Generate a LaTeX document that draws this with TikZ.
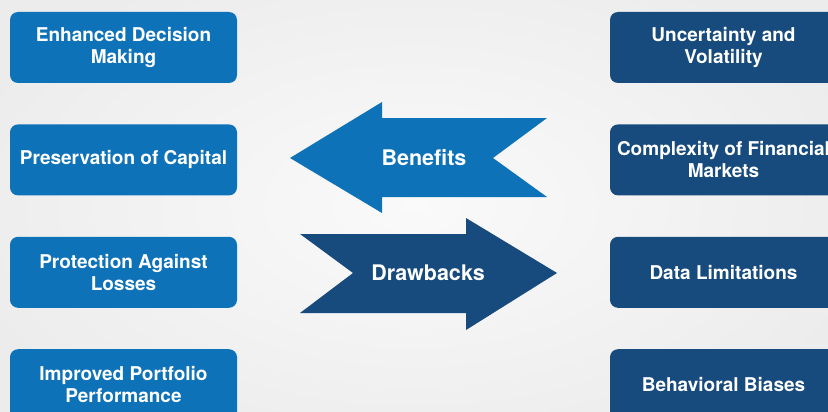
\documentclass[tikz,border=0pt]{standalone}
\usepackage{fontspec}
\setmainfont{TeX Gyre Heros}
\usepackage{tikz}
\usetikzlibrary{positioning}
\usepackage{xcolor}
\definecolor{benblue}{RGB}{14,114,185}
\definecolor{drawblue}{RGB}{24,75,125}
\definecolor{bggray}{RGB}{236,236,236}
\tikzset{
	itembox/.style={rounded corners=8pt, minimum width=227pt, minimum height=71pt, inner sep=0pt, align=center, text=white, font=\fontsize{19}{22}\selectfont\bfseries},
	benbox/.style={itembox, fill=benblue},
	drawbox/.style={itembox, fill=drawblue},
	arrowlabel/.style={text=white, font=\fontsize{21.5}{24}\selectfont\bfseries}
}

\begin{document}
\begin{tikzpicture}[x=1pt, y=-1pt]
						\useasboundingbox (0,0) rectangle (828,412);
						\clip (0,0) rectangle (828,412);
						\shade [inner color=white!98!black, outer color=bggray] (-60,-60) rectangle (888,472);
						% benefits column
						\node [benbox] (enhanced) at (123.5,47.5) {Enhanced Decision\\Making};
						\node [benbox, below=41pt of enhanced] (preservation) {Preservation of Capital};
						\node [benbox, below=41pt of preservation] (protection) {Protection Against\\Losses};
						\node [benbox, below=41pt of protection] (improved) {Improved Portfolio\\Performance};
						% drawbacks column
						\node [drawbox] (uncertainty) at (723.5,47.5) {Uncertainty and\\Volatility};
						\node [drawbox, below=41pt of uncertainty] (complexity) {Complexity of Financial\\Markets};
						\node [drawbox, below=41pt of complexity] (datalim) {Data Limitations};
						\node [drawbox, below=41pt of datalim] (behavioral) {Behavioral Biases};
						% the two arrows
						\fill [benblue] (290,158) -- (382,102) -- (382,118) -- (547,118) -- (493,158) -- (547,197) -- (382,197) -- (382,213) -- cycle;
						\node [arrowlabel] (benefits) at (424,158) {Benefits};
						\fill [drawblue] (300,234) -- (466,234) -- (466,218) -- (557,273) -- (466,330) -- (466,313) -- (300,313) -- (353,273) -- cycle;
						\node [arrowlabel] (drawbacks) at (428,273) {Drawbacks};
					\end{tikzpicture}
\end{document}
